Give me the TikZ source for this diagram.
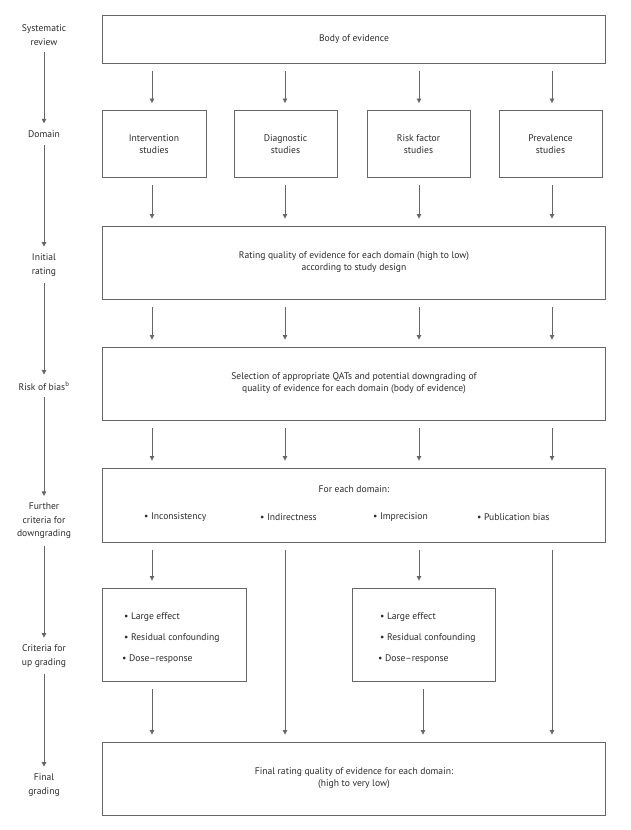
\documentclass[tikz,border=0pt]{standalone}
\usepackage{fontspec}
\setmainfont{PT Sans}
\usetikzlibrary{arrows.meta}
\definecolor{ln}{HTML}{666666}
\definecolor{tx}{HTML}{2B2B2B}
\tikzset{
  box/.style={draw=ln, line width=0.9pt, rectangle, inner sep=0pt, align=center, text=tx, font=\fontsize{9.6}{12}\selectfont},
  lbl/.style={align=center, text=tx, inner sep=1pt, font=\fontsize{9.6}{13.5}\selectfont},
  itm/.style={anchor=west, inner sep=0pt, text=tx, font=\fontsize{9.6}{12}\selectfont},
  arr/.style={draw=ln, line width=0.8pt, -{Triangle[width=4.5pt,length=4.5pt]}, shorten <=7.5pt, shorten >=7pt},
}
\begin{document}
\begin{tikzpicture}[x=1pt,y=-1pt]
\useasboundingbox (0,0) rectangle (631,830);
% column coordinates
\coordinate (c1) at (152,0);
\coordinate (c2) at (285,0);
\coordinate (c3) at (419,0);
\coordinate (c4) at (552,0);
\coordinate (c3b) at (423,0);
% main boxes
\node[box, minimum width=503pt, minimum height=48pt] (body) at (354,39) {Body of evidence};
\node[box, minimum width=104pt, minimum height=67pt] (d1) at (154,144) {Intervention\\studies};
\node[box, minimum width=103pt, minimum height=67pt] (d2) at (285.5,144) {Diagnostic\\studies};
\node[box, minimum width=103pt, minimum height=67pt] (d3) at (418.5,144) {Risk factor\\studies};
\node[box, minimum width=103pt, minimum height=67pt] (d4) at (550.5,144) {Prevalence\\studies};
\node[box, minimum width=503pt, minimum height=73pt] (rate) at (354,262.5) {Rating quality of evidence for each domain (high to low)\\according to study design};
\node[box, minimum width=503pt, minimum height=73pt] (risk) at (354,383.5) {Selection of appropriate QATs and potential downgrading of\\quality of evidence for each domain (body of evidence)};
\node[box, minimum width=503pt, minimum height=74pt] (fur) at (354,505) {};
\node[itm, anchor=center] (fed) at (354,489) {For each domain:};
\node[itm] (f1) at (144,517) {\textbullet\ Inconsistency};
\node[itm] (f2) at (260,517) {\textbullet\ Indirectness};
\node[itm] (f3) at (373,517) {\textbullet\ Imprecision};
\node[itm] (f4) at (477,517) {\textbullet\ Publication bias};
\node[box, minimum width=144pt, minimum height=93pt] (u1) at (174,634.5) {};
\node[box, minimum width=143pt, minimum height=93pt] (u2) at (423.5,634.5) {};
\node[itm] (u1a) at (124,617) {\textbullet\ Large effect};
\node[itm] (u1b) at (124,638) {\textbullet\ Residual confounding};
\node[itm] (u1c) at (122,659) {\textbullet\ Dose–response};
\node[itm] (u2a) at (380,617) {\textbullet\ Large effect};
\node[itm] (u2b) at (380,638) {\textbullet\ Residual confounding};
\node[itm] (u2c) at (378,659) {\textbullet\ Dose–response};
\node[box, minimum width=503pt, minimum height=73pt] (fin) at (354,778.5) {Final rating quality of evidence for each domain:\\(high to very low)};
% left labels
\node[lbl] (l1) at (44,35) {Systematic\\review};
\node[lbl] (l2) at (44,134) {Domain};
\node[lbl] (l3) at (44,265) {Initial\\rating};
\node[lbl] (l4) at (44,386) {Risk of bias\textsuperscript{b}};
\node[lbl] (l5) at (44,521) {Further\\criteria for\\downgrading};
\node[lbl] (l6) at (44,656) {Criteria for\\up grading};
\node[lbl] (l7) at (44,785) {Final\\grading};
% left arrows
\draw[arr, shorten <=6pt, shorten >=6pt] (l1) -- (l2);
\draw[arr, shorten <=6pt, shorten >=6pt] (l2) -- (l3);
\draw[arr, shorten <=6pt, shorten >=6pt] (l3) -- (l4);
\draw[arr, shorten <=6pt, shorten >=6pt] (l4) -- (l5);
\draw[arr, shorten <=6pt, shorten >=6pt] (l5) -- (l6);
\draw[arr, shorten <=6pt, shorten >=6pt] (l6) -- (l7);
% body -> domains
\draw[arr] (body.south -| c1) -- (d1.north -| c1);
\draw[arr] (body.south -| c2) -- (d2.north -| c2);
\draw[arr] (body.south -| c3) -- (d3.north -| c3);
\draw[arr] (body.south -| c4) -- (d4.north -| c4);
% domains -> rating
\draw[arr] (d1.south -| c1) -- (rate.north -| c1);
\draw[arr] (d2.south -| c2) -- (rate.north -| c2);
\draw[arr] (d3.south -| c3) -- (rate.north -| c3);
\draw[arr] (d4.south -| c4) -- (rate.north -| c4);
% rating -> risk
\draw[arr] (rate.south -| c1) -- (risk.north -| c1);
\draw[arr] (rate.south -| c2) -- (risk.north -| c2);
\draw[arr] (rate.south -| c3) -- (risk.north -| c3);
\draw[arr] (rate.south -| c4) -- (risk.north -| c4);
% risk -> further
\draw[arr] (risk.south -| c1) -- (fur.north -| c1);
\draw[arr] (risk.south -| c2) -- (fur.north -| c2);
\draw[arr] (risk.south -| c3) -- (fur.north -| c3);
\draw[arr] (risk.south -| c4) -- (fur.north -| c4);
% further -> upgrade / final
\draw[arr] (fur.south -| c1) -- (u1.north -| c1);
\draw[arr] (fur.south -| c2) -- (fin.north -| c2);
\draw[arr] (fur.south -| c3) -- (u2.north -| c3);
\draw[arr] (fur.south -| c4) -- (fin.north -| c4);
% upgrade -> final
\draw[arr] (u1.south -| c1) -- (fin.north -| c1);
\draw[arr] (u2.south -| c3b) -- (fin.north -| c3b);
\end{tikzpicture}
\end{document}
